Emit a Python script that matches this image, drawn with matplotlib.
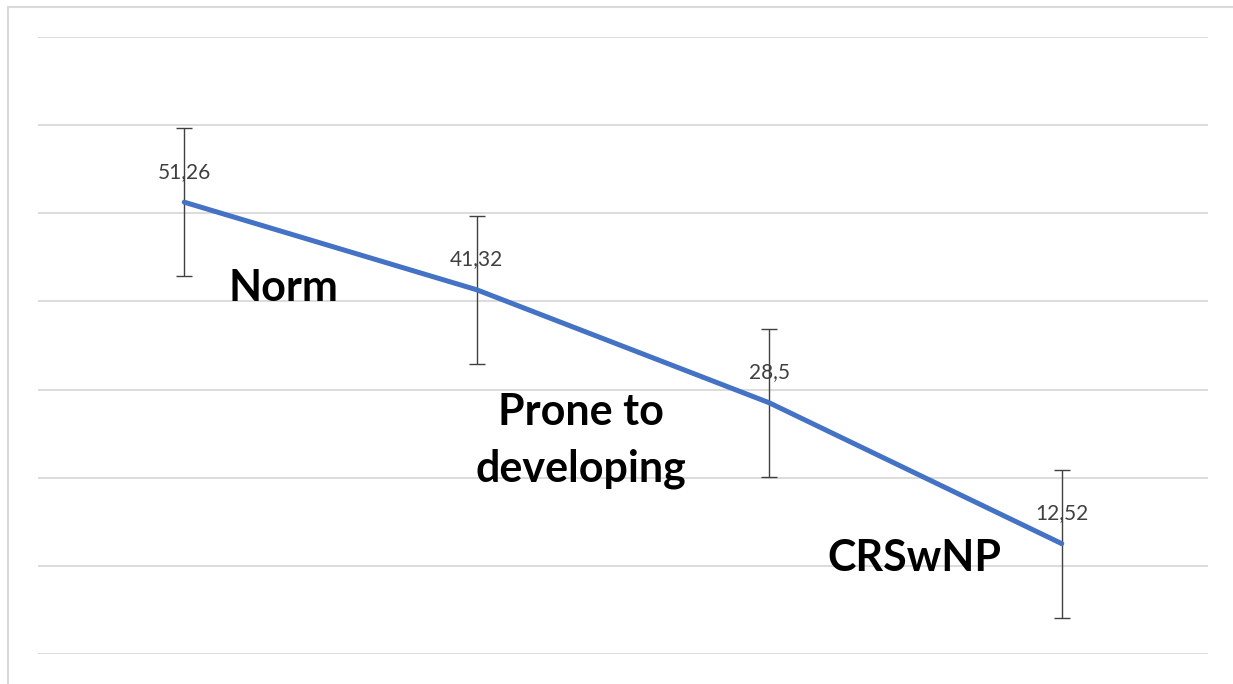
import matplotlib.pyplot as plt
from matplotlib.patches import Rectangle

# data
groups = ["Norm", "Prone to\ndeveloping", "CRSwNP"]
values = [51.26, 41.32, 28.5, 12.52]
errors = [8.4, 8.4, 8.4, 8.4]
value_labels = ["51,26", "41,32", "28,5", "12,52"]


def main():
    plt.rcParams['font.family'] = ['Lato', 'DejaVu Sans']

    fig = plt.figure(figsize=(12.33, 6.84), dpi=100)
    ax = fig.add_axes([38 / 1233, 1 - 654 / 684, 1170 / 1233, 617 / 684])

    # thin grey frame around the chart area
    fig.patches.append(Rectangle((8 / 1233, -0.1), 1.2, 1.1 - 7 / 684,
                                 transform=fig.transFigure, fill=False,
                                 edgecolor="#d9d9d9", linewidth=1.5))

    x = list(range(len(values)))
    ax.errorbar(x, values, yerr=errors, fmt="none", ecolor="#404040",
                elinewidth=1, capsize=6, capthick=1, zorder=2)
    ax.plot(x, values, color="#4472C4", linewidth=3.6,
            solid_capstyle="round", zorder=3)

    for xi, v, lab in zip(x, values, value_labels):
        ax.annotate(lab, (xi, v), xytext=(0, 22), textcoords="offset points",
                    ha="center", va="center", fontsize=15, color="#404040",
                    zorder=4)

    # group names placed in the chart like text boxes
    label_pos = [(0.338, 41.5), (1.356, 24.2), (2.495, 10.9)]
    for (tx, ty), name in zip(label_pos, groups):
        ax.text(tx, ty, name, ha="center", va="center", fontsize=31,
                fontweight="bold", color="black", linespacing=1.5, zorder=5)

    ax.set_xlim(-0.5, 3.5)
    ax.set_ylim(0, 70)
    ax.set_yticks(range(0, 71, 10))
    ax.set_xticks([])
    ax.tick_params(left=False, labelleft=False)
    ax.grid(axis="y", color="#d9d9d9", linewidth=1.3)
    ax.set_axisbelow(True)
    for s in ax.spines.values():
        s.set_visible(False)

    fig.savefig("out.png", dpi=100)


main()
